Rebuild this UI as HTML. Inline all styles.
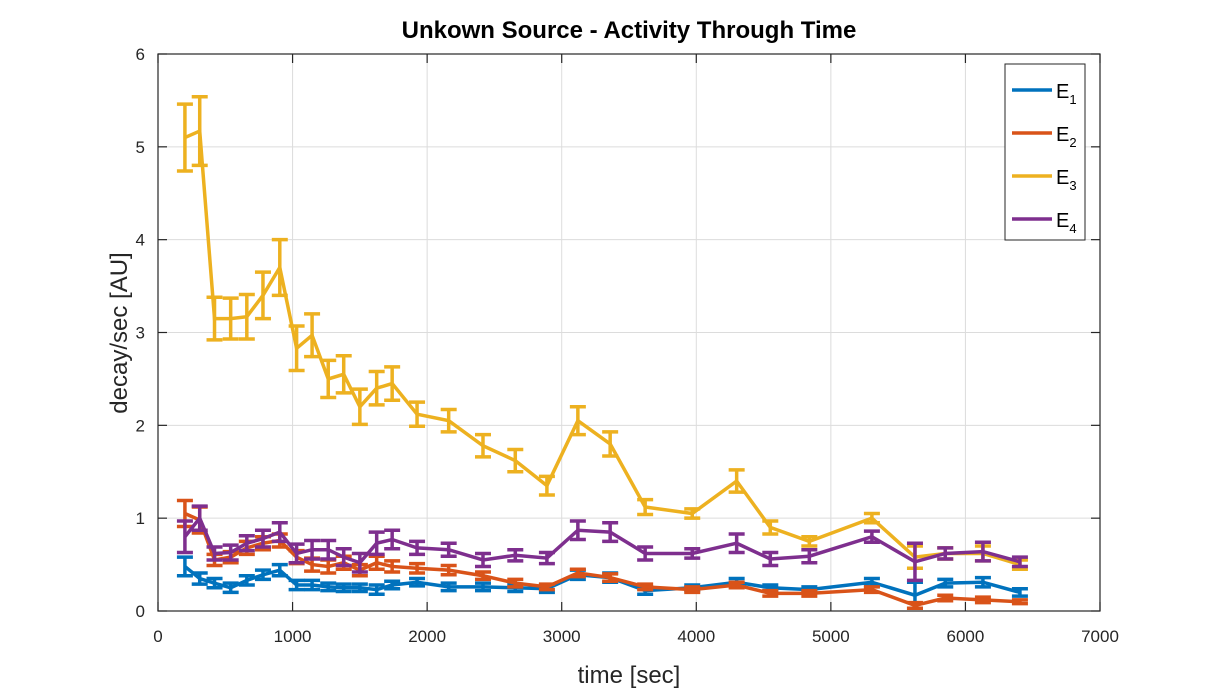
<!DOCTYPE html>
<html><head><meta charset="utf-8"><style>
body{margin:0;background:#fff;font-family:"Liberation Sans",sans-serif}
</style></head><body>
<svg id="chart" width="1215" height="692" xmlns="http://www.w3.org/2000/svg" font-family="Liberation Sans, sans-serif"></svg>
<script>
const times=[200,310,420,540,660,780,905,1030,1145,1265,1380,1500,1625,1740,1925,2160,2415,2655,2890,3120,3360,3620,3970,4300,4550,4840,5305,5625,5850,6130,6405];
const e1=[0.48,0.35,0.3,0.25,0.33,0.39,0.44,0.28,0.28,0.26,0.25,0.25,0.23,0.28,0.31,0.26,0.26,0.25,0.24,0.39,0.36,0.22,0.25,0.31,0.25,0.23,0.31,0.17,0.3,0.31,0.2];
const e1err=[0.1,0.06,0.05,0.05,0.05,0.05,0.06,0.05,0.05,0.04,0.04,0.04,0.05,0.04,0.04,0.04,0.04,0.04,0.04,0.05,0.05,0.04,0.03,0.04,0.03,0.03,0.04,0.14,0.04,0.05,0.04];
const e2=[1.05,0.98,0.55,0.58,0.68,0.73,0.76,0.58,0.5,0.48,0.52,0.44,0.52,0.48,0.46,0.44,0.38,0.3,0.26,0.41,0.36,0.26,0.23,0.28,0.19,0.19,0.23,0.06,0.14,0.12,0.1];
const e2err=[0.14,0.14,0.06,0.06,0.07,0.07,0.07,0.07,0.07,0.07,0.07,0.06,0.07,0.06,0.05,0.05,0.04,0.04,0.03,0.04,0.04,0.03,0.03,0.03,0.03,0.03,0.03,0.03,0.03,0.03,0.02];
const e3=[5.1,5.17,3.15,3.15,3.17,3.4,3.7,2.83,2.97,2.5,2.55,2.2,2.4,2.45,2.12,2.05,1.78,1.62,1.35,2.05,1.8,1.12,1.05,1.4,0.9,0.75,1.0,0.58,0.62,0.62,0.5];
const e3err=[0.36,0.37,0.23,0.22,0.24,0.25,0.3,0.24,0.23,0.2,0.2,0.19,0.18,0.18,0.13,0.12,0.12,0.12,0.1,0.15,0.13,0.08,0.05,0.12,0.07,0.05,0.05,0.12,0.06,0.08,0.05];
const e4=[0.8,1.0,0.62,0.63,0.73,0.78,0.85,0.62,0.66,0.66,0.58,0.52,0.73,0.77,0.68,0.66,0.55,0.6,0.57,0.87,0.85,0.62,0.62,0.73,0.56,0.59,0.8,0.53,0.62,0.64,0.53];
const e4err=[0.17,0.13,0.07,0.08,0.08,0.09,0.1,0.1,0.1,0.1,0.09,0.1,0.12,0.1,0.07,0.07,0.07,0.06,0.06,0.1,0.1,0.07,0.05,0.1,0.07,0.07,0.06,0.2,0.06,0.1,0.05];
const xTicks=[0,1000,2000,3000,4000,5000,6000,7000];
const yTicks=[0,1,2,3,4,5,6];
const L=158,R=1100,T=54,B=611;
const X=v=>L+(v/7000)*(R-L);
const Y=v=>B-(v/6)*(B-T);
const svg=document.getElementById('chart');
const NS='http://www.w3.org/2000/svg';
function mk(tag,attrs,parent){const e=document.createElementNS(NS,tag);for(const k in attrs)e.setAttribute(k,attrs[k]);(parent||svg).appendChild(e);return e;}
const bg=mk('rect',{x:L,y:T,width:R-L,height:B-T,fill:'#fff'});


const grid=mk('g',{stroke:'#dcdcdc','stroke-width':1});


xTicks.forEach(t=>{mk('line',{x1:X(t),x2:X(t),y1:T,y2:B},grid);});
yTicks.forEach(t=>{mk('line',{x1:L,x2:R,y1:Y(t),y2:Y(t)},grid);});
const axes=mk('g',{stroke:'#262626','stroke-width':1.2,fill:'none'});


mk('rect',{x:L,y:T,width:R-L,height:B-T},axes);
xTicks.forEach(t=>{mk('line',{x1:X(t),x2:X(t),y1:B,y2:B-9},axes);mk('line',{x1:X(t),x2:X(t),y1:T,y2:T+9},axes);
 const tx=mk('text',{x:X(t),y:B+31,'text-anchor':'middle','font-size':17,fill:'#262626',stroke:'none'});tx.textContent=t;
 
 });
yTicks.forEach(t=>{mk('line',{x1:L,x2:L+9,y1:Y(t),y2:Y(t)},axes);mk('line',{x1:R,x2:R-9,y1:Y(t),y2:Y(t)},axes);
 const tx=mk('text',{x:L-13,y:Y(t)+6,'text-anchor':'end','font-size':17,fill:'#262626',stroke:'none'});tx.textContent=t;
 
 });
const series=[[e1,e1err,'#0072BD','e1'],[e2,e2err,'#D95319','e2'],[e3,e3err,'#EDB120','e3'],[e4,e4err,'#7E2F8E','e4']];
series.forEach(([vals,errs,col,nm])=>{
 const g=mk('g',{stroke:col,'stroke-width':3.5,fill:'none'});
 
 
 vals.forEach((v,i)=>{const x=X(times[i]),y1=Y(v-errs[i]),y2=Y(v+errs[i]);
  const eb=mk('path',{d:`M${x},${y1}V${y2}M${x-8},${y1}H${x+8}M${x-8},${y2}H${x+8}`},g);
  
  });
 const p=mk('polyline',{points:vals.map((v,i)=>X(times[i])+','+Y(v)).join(' ')},g);
 
 
});
const title=mk('text',{x:629,y:38,'text-anchor':'middle','font-size':24,'font-weight':'bold',fill:'#000'});
title.textContent='Unkown Source - Activity Through Time';


const xt=mk('text',{x:629,y:683,'text-anchor':'middle','font-size':24,fill:'#262626'});
xt.textContent='time [sec]';


const yt=mk('text',{x:0,y:0,'text-anchor':'middle','font-size':24,fill:'#262626',transform:'translate(127,333) rotate(-90)'});
yt.textContent='decay/sec [AU]';


const lg=mk('g',{});


mk('rect',{x:1005,y:64,width:80,height:176,fill:'#fff',stroke:'#262626','stroke-width':1},lg);
series.forEach(([v,e,col,nm],i)=>{const y=90+i*43;
 const en=mk('g',{},lg);
 
 
 mk('line',{x1:1012,x2:1052,y1:y,y2:y,stroke:col,'stroke-width':3.5},en);
 const t=mk('text',{x:1056,y:y+8,'font-size':20,fill:'#000'},en);
 t.innerHTML='E<tspan font-size="13" dy="6">'+(i+1)+'</tspan>';
});
</script>
</body></html>
